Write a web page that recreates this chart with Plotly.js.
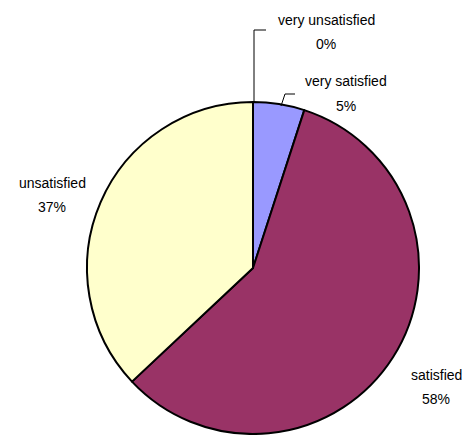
<!DOCTYPE html>
<html>
<head>
<meta charset="utf-8">
<script src="https://cdn.plot.ly/plotly-3.0.1.min.js"></script>
<style>html,body{margin:0;padding:0;background:#fff;}#chart{width:471px;height:435px;}</style>
</head>
<body>
<div id="chart"></div>
<script>
const categories = ["very satisfied", "satisfied", "unsatisfied", "very unsatisfied"];
const values = [5, 58, 37, 0];
const colors = ["#9999FF", "#993366", "#FFFFCC", "#FFFFFF"];

const W = 471, H = 435;
const px = x => x / W;
const py = y => 1 - y / H;

// label anchor positions (pixels): name centre, percent centre
const labelPos = [
  {x: 346, y: 81, py: 106},
  {x: 436, y: 375, py: 399},
  {x: 52, y: 183, py: 207},
  {x: 326, y: 20, py: 44}
];

const total = values.reduce((a, b) => a + b, 0);
const font = {family: "Liberation Sans, Arial, sans-serif", size: 14, color: "#000"};
const annotations = [];
categories.forEach((c, i) => {
  const pct = Math.round(values[i] / total * 100) + "%";
  annotations.push({text: c, x: px(labelPos[i].x), y: py(labelPos[i].y), xref: "paper", yref: "paper",
    showarrow: false, xanchor: "center", yanchor: "middle", font: font});
  annotations.push({text: pct, x: px(labelPos[i].x), y: py(labelPos[i].py), xref: "paper", yref: "paper",
    showarrow: false, xanchor: "center", yanchor: "middle", font: font});
});

const leader = (pts) => ({
  type: "path", xref: "paper", yref: "paper",
  path: "M " + pts.map(p => px(p[0]) + "," + py(p[1])).join(" L "),
  line: {color: "#000", width: 1}
});
const shapes = [
  leader([[254, 103], [254, 30], [266, 30]]),
  leader([[281, 106], [285, 94], [295, 94]])
];

const data = [{
  type: "pie",
  labels: categories,
  values: values,
  sort: false,
  direction: "clockwise",
  rotation: 0,
  textinfo: "none",
  hoverinfo: "label+percent",
  marker: {colors: colors, line: {color: "#000", width: 2}},
  domain: {x: [87 / W, 419 / W], y: [1 / H, 333 / H]},
  showlegend: false
}];

const layout = {
  width: W, height: H,
  margin: {l: 0, r: 0, t: 0, b: 0},
  paper_bgcolor: "#fff",
  showlegend: false,
  annotations: annotations,
  shapes: shapes
};

Plotly.newPlot("chart", data, layout, {displayModeBar: false, staticPlot: true});
</script>
</body>
</html>
